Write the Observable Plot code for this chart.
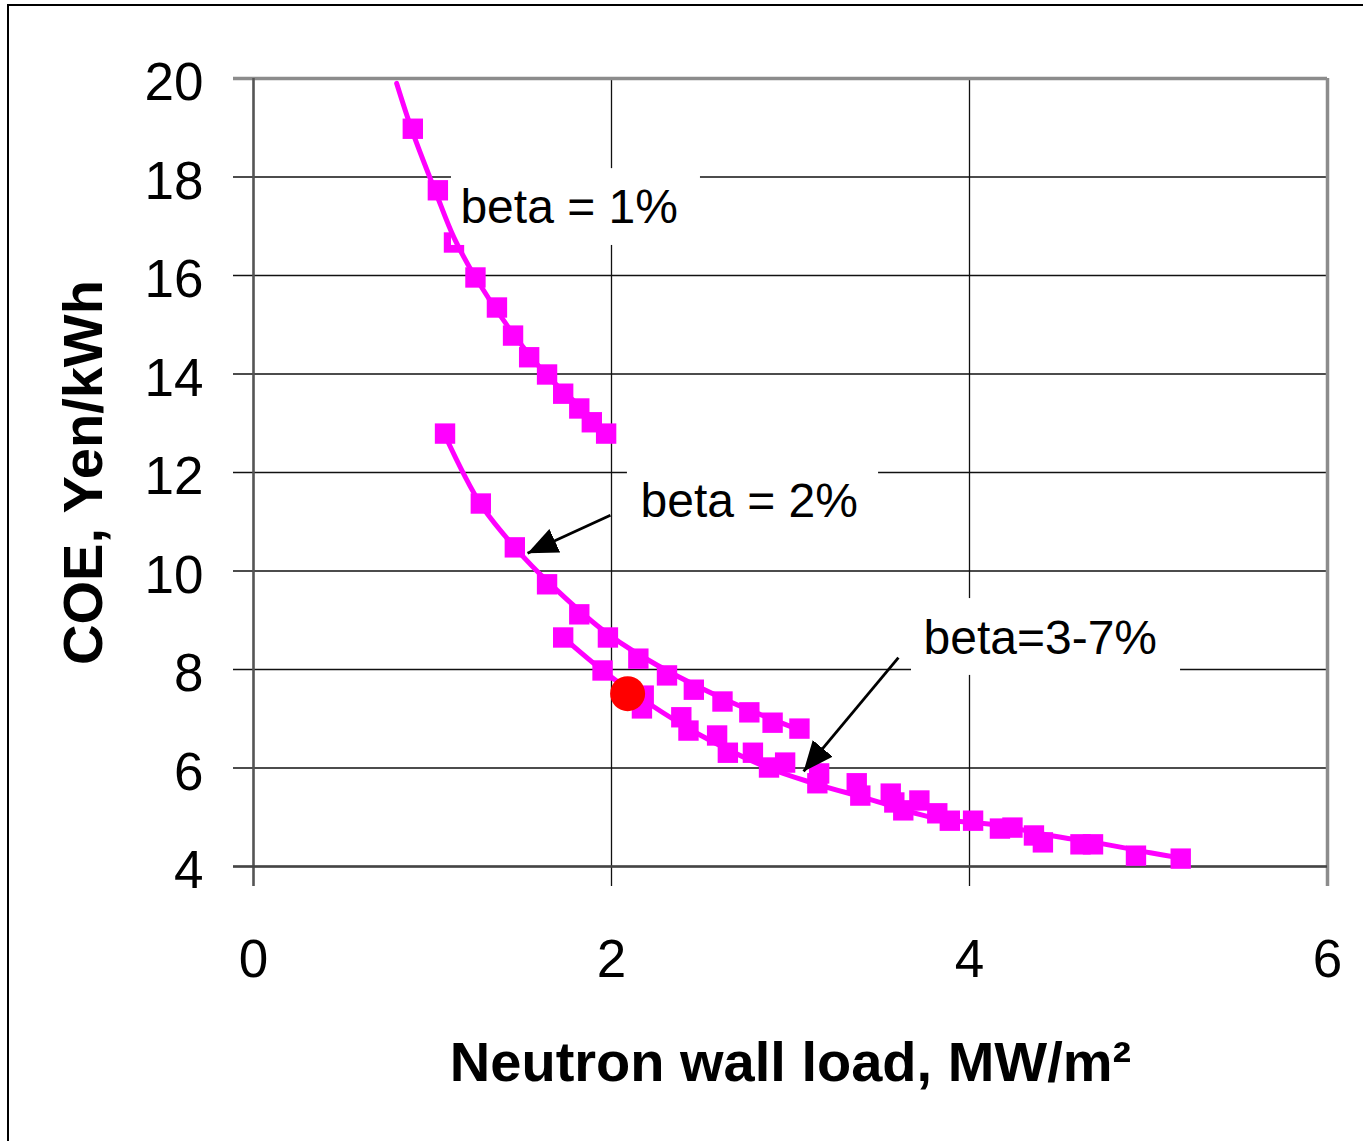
<!DOCTYPE html>
<html><head><meta charset="utf-8">
<script src="https://cdn.jsdelivr.net/npm/d3@7"></script>
<script src="https://cdn.jsdelivr.net/npm/@observablehq/plot@0.6"></script>
<style>
body{margin:0;background:#fff;}
#wrap{position:relative;width:1363px;height:1141px;overflow:hidden;background:#fff;}
#frame{position:absolute;left:7px;top:4px;right:-10px;bottom:-10px;border-left:2px solid #000;border-top:2px solid #000;pointer-events:none;}
</style></head><body><div id="wrap"><div id="frame"></div></div>
<script>
// Tick values
const xTicks = [0, 2, 4, 6];
const yTicks = [4, 6, 8, 10, 12, 14, 16, 18, 20];

// beta = 1% : markers and fitted curve
const beta1X = [0.89, 1.03, 1.12, 1.24, 1.36, 1.45, 1.54, 1.64, 1.73, 1.82, 1.89, 1.97];
const beta1Y = [18.98, 17.73, 16.67, 15.96, 15.35, 14.78, 14.34, 13.99, 13.60, 13.30, 13.02, 12.79];
const beta1LineX = [0.80, 0.89, 1.02, 1.12, 1.24, 1.45, 1.64, 1.83, 1.99];
const beta1LineY = [19.9, 18.9, 17.67, 16.77, 15.96, 14.82, 13.97, 13.32, 12.75];

// beta = 2%
const beta2X = [1.07, 1.27, 1.46, 1.64, 1.82, 1.98, 2.15, 2.31, 2.46, 2.62, 2.77, 2.90, 3.05];
const beta2Y = [12.79, 11.37, 10.48, 9.73, 9.12, 8.65, 8.22, 7.88, 7.59, 7.35, 7.13, 6.92, 6.80];
const beta2LineX = [1.07, 1.27, 1.475, 1.64, 1.955, 2.145, 2.61, 3.06];
const beta2LineY = [12.75, 11.35, 10.42, 9.80, 8.79, 8.32, 7.43, 6.76];

// beta = 3-7%
const beta37X = [1.73, 1.95, 2.18, 2.17, 2.39, 2.43, 2.59, 2.65, 2.79, 2.88, 2.97, 3.16, 3.15, 3.37, 3.39, 3.56, 3.58, 3.63, 3.72, 3.82, 3.89, 4.02, 4.17, 4.24, 4.36, 4.41, 4.62, 4.69, 4.93, 5.18];
const beta37Y = [8.65, 7.98, 7.47, 7.21, 7.03, 6.76, 6.66, 6.31, 6.31, 6.01, 6.11, 5.89, 5.69, 5.69, 5.44, 5.48, 5.30, 5.14, 5.34, 5.08, 4.93, 4.93, 4.77, 4.79, 4.63, 4.49, 4.45, 4.45, 4.22, 4.16];
const beta37LineX = [1.73, 1.95, 2.20, 2.50, 2.87, 3.13, 3.43, 3.80, 4.17, 4.45, 4.73, 5.01, 5.20];
const beta37LineY = [8.65, 7.98, 7.33, 6.66, 6.01, 5.69, 5.38, 4.99, 4.83, 4.63, 4.47, 4.28, 4.16];

// Design point (red)
const designX = [2.09];
const designY = [7.51];

// Annotations
const labelTexts = ["beta = 1%", "beta = 2%", "beta=3-7%"];
const labelX = [1.156, 2.162, 3.743];
const labelY = [17.37, 11.41, 8.63];
const boxX1 = [1.106, 2.089, 3.676];
const boxX2 = [2.497, 3.492, 5.179];
const boxY1 = [16.61, 10.72, 7.88];
const boxY2 = [18.17, 12.35, 9.44];
const arrowX1 = [1.994, 3.603];
const arrowY1 = [11.13, 8.24];
const arrowX2 = [1.531, 3.073];
const arrowY2 = [10.36, 5.93];

const xTitle = "Neutron wall load, MW/m\u00B2";
const yTitle = "COE, Yen/kWh";

const zip = (xs, ys) => xs.map((x, i) => ({x, y: ys[i]}));
const markers = [...zip(beta1X, beta1Y), ...zip(beta2X, beta2Y), ...zip(beta37X, beta37Y)];
const lines = [
  ...zip(beta1LineX, beta1LineY).map(d => ({...d, s: "b1"})),
  ...zip(beta2LineX, beta2LineY).map(d => ({...d, s: "b2"})),
  ...zip(beta37LineX, beta37LineY).map(d => ({...d, s: "b37"}))
];
const labels = labelTexts.map((t, i) => ({t, x: labelX[i], y: labelY[i]}));
const boxes = boxX1.map((d, i) => ({x1: d, x2: boxX2[i], y1: boxY1[i], y2: boxY2[i]}));
const arrows = arrowX1.map((d, i) => ({x1: d, y1: arrowY1[i], x2: arrowX2[i], y2: arrowY2[i]}));

const svgns = "http://www.w3.org/2000/svg";
function filledHead(color) {
  const m = document.createElementNS(svgns, "marker");
  m.setAttribute("viewBox", "-30 -13 30 26");
  m.setAttribute("markerWidth", 30);
  m.setAttribute("markerHeight", 26);
  m.setAttribute("refX", 0);
  m.setAttribute("refY", 0);
  m.setAttribute("orient", "auto");
  m.setAttribute("markerUnits", "userSpaceOnUse");
  const p = document.createElementNS(svgns, "path");
  p.setAttribute("d", "M-30,-13L0,0L-30,13Z");
  p.setAttribute("fill", color || "black");
  p.setAttribute("stroke", "none");
  m.appendChild(p);
  return m;
}

const MAG = "#FF00FF";
const chart = Plot.plot({
  width: 1363, height: 1141,
  marginLeft: 253, marginRight: 36, marginTop: 78, marginBottom: 275,
  style: {fontFamily: "'Liberation Sans', Arial, sans-serif", background: "white", overflow: "visible", color: "black"},
  x: {domain: [0, 6], axis: null},
  y: {domain: [4, 20], axis: null},
  marks: [
    Plot.ruleY(yTicks, {y: d => d, stroke: "#111", strokeWidth: 1.3, insetLeft: -20}),
    Plot.ruleX(xTicks, {x: d => d, stroke: "#111", strokeWidth: 1.3, insetBottom: -20}),
    Plot.ruleY([20], {y: d => d, stroke: "#8c8c8c", strokeWidth: 3.5, insetLeft: -20}),
    Plot.ruleX([6], {x: d => d, stroke: "#8c8c8c", strokeWidth: 3.5, insetBottom: -20}),
    Plot.ruleX([0], {x: d => d, stroke: "#555", strokeWidth: 2.5, insetBottom: -20}),
    Plot.ruleY([4], {y: d => d, stroke: "#444", strokeWidth: 2.5, insetLeft: -20}),
    Plot.dot(markers, {x: "x", y: "y", symbol: "square", r: 11.5, fill: MAG, stroke: "none"}),
    Plot.rect(boxes, {x1: "x1", x2: "x2", y1: "y1", y2: "y2", fill: "white"}),
    Plot.line(lines, {x: "x", y: "y", z: "s", stroke: MAG, strokeWidth: 5, curve: "catmull-rom"}),
    Plot.dot(zip(designX, designY), {x: "x", y: "y", r: 17.5, fill: "#FF0000", stroke: "none"}),
    Plot.text(labels, {x: "x", y: "y", text: "t", textAnchor: "start", fontSize: 48, fill: "black"}),
    Plot.link(arrows, {x1: "x1", y1: "y1", x2: "x2", y2: "y2", stroke: "black", strokeWidth: 2.8, markerEnd: filledHead}),
    Plot.text(xTicks, {x: d => d, frameAnchor: "bottom", textAnchor: "middle", dy: 110, text: d => String(d), fontSize: 53, fill: "black"}),
    Plot.text(yTicks, {y: d => d, frameAnchor: "left", textAnchor: "end", dx: -50, dy: 5, text: d => String(d), fontSize: 53, fill: "black"}),
    Plot.text([xTitle], {frameAnchor: "bottom", textAnchor: "middle", dy: 214, text: d => d, fontSize: 56, fontWeight: "bold", fill: "black"}),
    Plot.text([yTitle], {frameAnchor: "left", textAnchor: "middle", dx: -169, rotate: -90, text: d => d, fontSize: 56, fontWeight: "bold", fill: "black"})
  ]
});
const wrap = document.getElementById("wrap");
wrap.insertBefore(chart, document.getElementById("frame"));
</script>
</body></html>
